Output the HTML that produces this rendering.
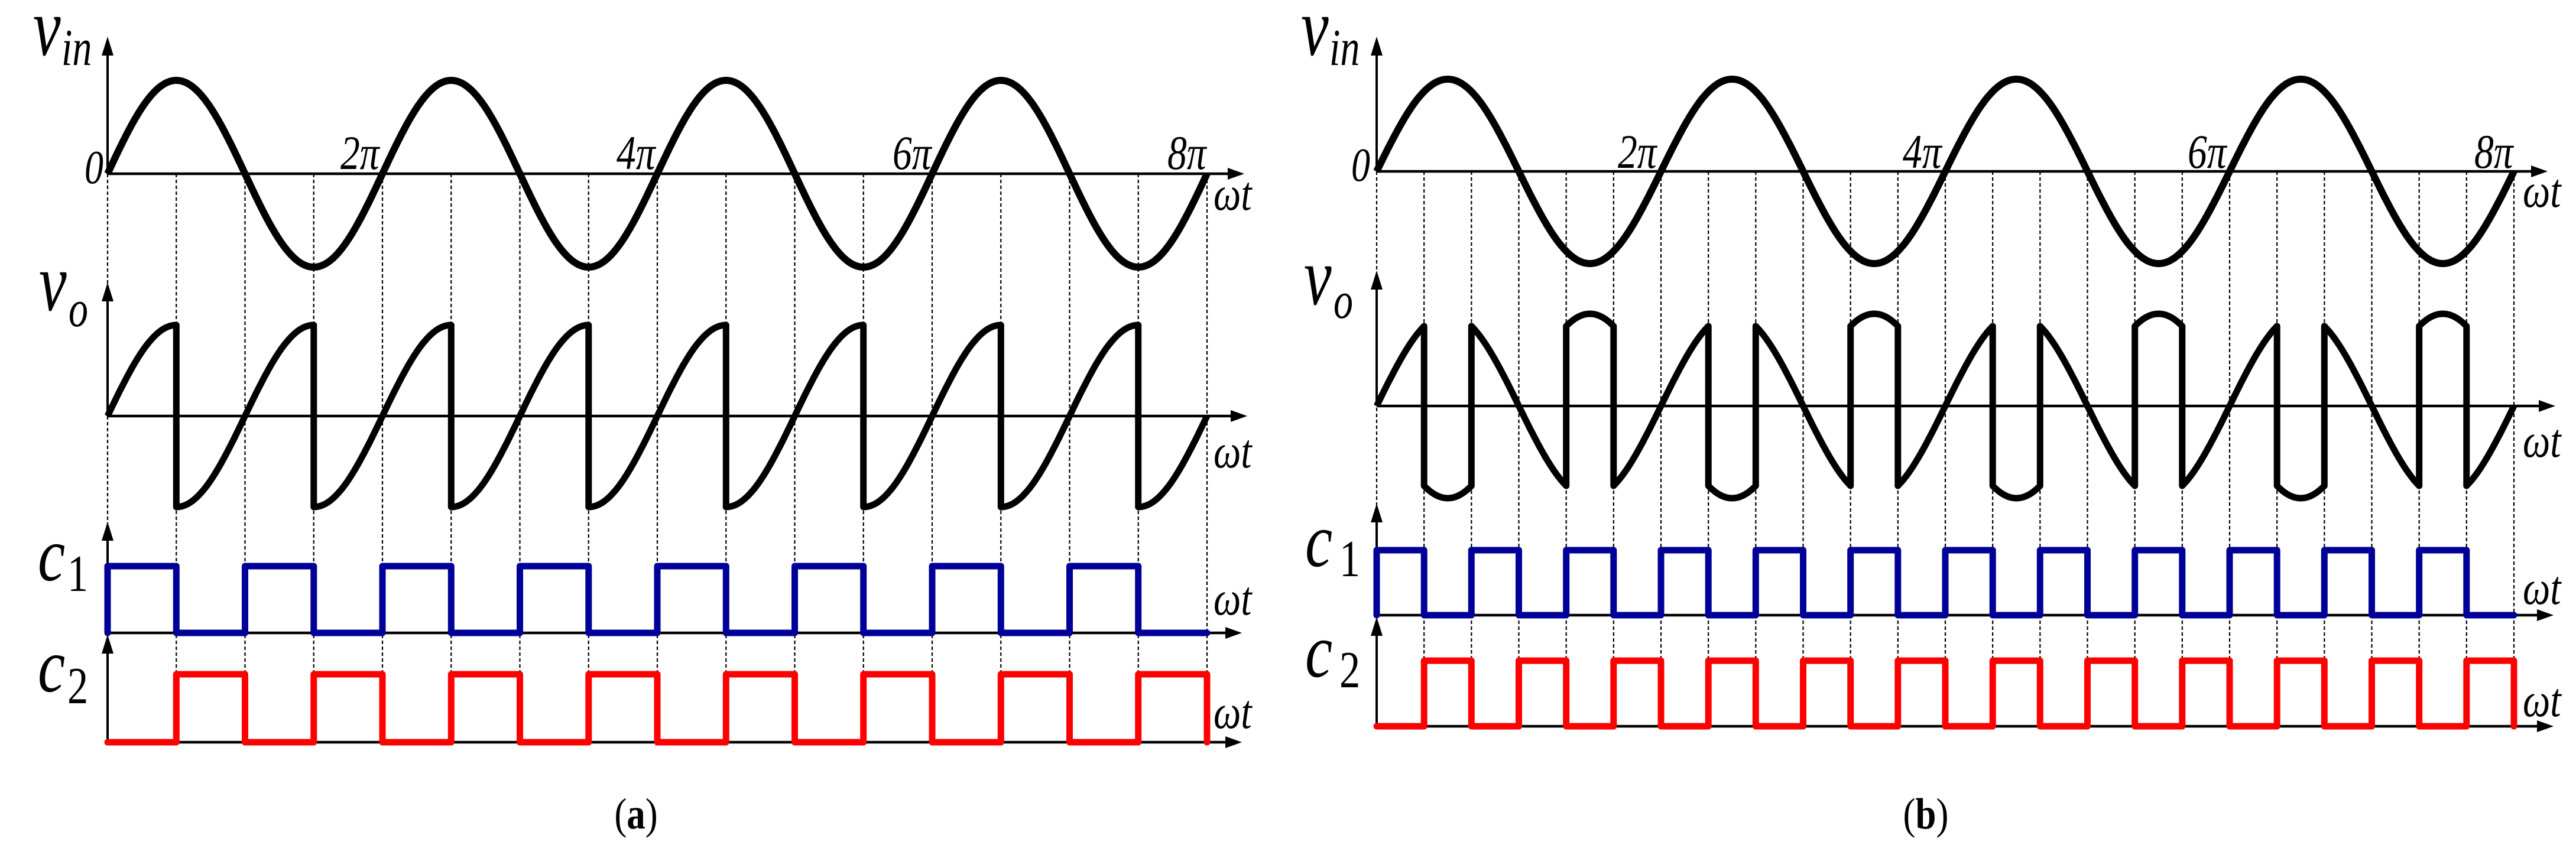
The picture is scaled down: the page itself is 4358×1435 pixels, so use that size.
<!DOCTYPE html>
<html><head><meta charset="utf-8"><style>
html,body{margin:0;padding:0;background:#fff;}
svg{display:block;}
</style></head><body>
<svg id="s" width="4358" height="1435" viewBox="0 0 4358 1435" xmlns="http://www.w3.org/2000/svg">
<g id="g"></g>
<g font-family="'Liberation Serif','Times New Roman','DejaVu Serif',serif" fill="#000">
<!-- Panel a labels -->
<text font-style="italic" font-size="140" transform="translate(56,93) scale(0.75,1)">v</text>
<text font-style="italic" font-size="88" transform="translate(104,110) scale(0.75,1)">in</text>
<text font-style="italic" font-size="80" transform="translate(143,310) scale(0.8,1)">0</text>
<text font-style="italic" font-size="82" transform="translate(576,286) scale(0.8,1)">2π</text>
<text font-style="italic" font-size="82" transform="translate(1043,286) scale(0.8,1)">4π</text>
<text font-style="italic" font-size="82" transform="translate(1510,286) scale(0.8,1)">6π</text>
<text font-style="italic" font-size="82" transform="translate(1975,286) scale(0.8,1)">8π</text>
<text font-style="italic" font-size="82" transform="translate(2053,355) scale(0.8,1)">ωt</text>
<text font-style="italic" font-size="140" transform="translate(66,525) scale(0.75,1)">v</text>
<text font-style="italic" font-size="88" transform="translate(116,552) scale(0.75,1)">o</text>
<text font-style="italic" font-size="82" transform="translate(2053,791) scale(0.8,1)">ωt</text>
<text font-style="italic" font-size="130" transform="translate(64,982) scale(0.8,1)">c</text>
<text font-size="88" transform="translate(114,1000) scale(0.8,1)">1</text>
<text font-style="italic" font-size="82" transform="translate(2053,1040) scale(0.8,1)">ωt</text>
<text font-style="italic" font-size="130" transform="translate(64,1170) scale(0.8,1)">c</text>
<text font-size="88" transform="translate(114,1190) scale(0.8,1)">2</text>
<text font-style="italic" font-size="82" transform="translate(2053,1232) scale(0.8,1)">ωt</text>
<text font-size="74" text-anchor="middle" transform="translate(1076,1402) scale(0.85,1)">(<tspan font-weight="bold">a</tspan>)</text>
<!-- Panel b labels -->
<text font-style="italic" font-size="140" transform="translate(2201,93) scale(0.75,1)">v</text>
<text font-style="italic" font-size="88" transform="translate(2249,110) scale(0.75,1)">in</text>
<text font-style="italic" font-size="80" transform="translate(2286,306) scale(0.8,1)">0</text>
<text font-style="italic" font-size="82" transform="translate(2737,284) scale(0.8,1)">2π</text>
<text font-style="italic" font-size="82" transform="translate(3219,284) scale(0.8,1)">4π</text>
<text font-style="italic" font-size="82" transform="translate(3701,284) scale(0.8,1)">6π</text>
<text font-style="italic" font-size="82" transform="translate(4186,284) scale(0.8,1)">8π</text>
<text font-style="italic" font-size="82" transform="translate(4268,350) scale(0.8,1)">ωt</text>
<text font-style="italic" font-size="140" transform="translate(2206,515) scale(0.75,1)">v</text>
<text font-style="italic" font-size="88" transform="translate(2256,538) scale(0.75,1)">o</text>
<text font-style="italic" font-size="82" transform="translate(4268,773) scale(0.8,1)">ωt</text>
<text font-style="italic" font-size="130" transform="translate(2208,958) scale(0.8,1)">c</text>
<text font-size="88" transform="translate(2266,975) scale(0.8,1)">1</text>
<text font-style="italic" font-size="82" transform="translate(4268,1022) scale(0.8,1)">ωt</text>
<text font-style="italic" font-size="130" transform="translate(2208,1145) scale(0.8,1)">c</text>
<text font-size="88" transform="translate(2266,1163) scale(0.8,1)">2</text>
<text font-style="italic" font-size="82" transform="translate(4268,1212) scale(0.8,1)">ωt</text>
<text font-size="74" text-anchor="middle" transform="translate(3258,1402) scale(0.85,1)">(<tspan font-weight="bold">b</tspan>)</text>
</g>
</svg>
<script>
(function(){
var g=document.getElementById('g');var out='';
var PI=Math.PI;
function line(x1,y1,x2,y2,st){out+='<line x1="'+x1+'" y1="'+y1+'" x2="'+x2+'" y2="'+y2+'" '+st+'/>';}
function arrowR(x,y){out+='<polygon points="'+x+','+y+' '+(x-28)+','+(y-10)+' '+(x-28)+','+(y+10)+'" fill="#000"/>';}
function arrowU(x,y){out+='<polygon points="'+x+','+y+' '+(x-10)+','+(y+32)+' '+(x+10)+','+(y+32)+'" fill="#000"/>';}
function panel(c){
  var x0=c.x0,P=c.P,xs=function(t){return x0+t/(2*PI)*P;};
  var xe=xs(8*PI);
  var n=Math.round(8*PI/c.step);
  for(var k=0;k<=n;k++){var x=xs(k*c.step);line(x,c.yin,x,c.yc2,'stroke="#000" stroke-width="2.2" stroke-dasharray="6,4"');}
  [[c.yin,c.tin,c.ain],[c.yvo,c.tvo,c.avo],[c.yc1,c.tc1,c.ac1],[c.yc2,c.tc2,c.ac2]].forEach(function(a){
    line(x0,a[0],a[2]-20,a[0],'stroke="#000" stroke-width="4.5"');arrowR(a[2],a[0]);
    line(x0,a[0],x0,a[1]+20,'stroke="#000" stroke-width="4"');arrowU(x0,a[1]);
  });
  var d='';for(var i=0;i<=1600;i++){var t=8*PI*i/1600;d+=(i?'L':'M')+xs(t).toFixed(1)+','+(c.yin-c.Ain*Math.sin(t)).toFixed(1);}
  out+='<path d="'+d+'" fill="none" stroke="#000" stroke-width="12" stroke-linejoin="round"/>';
  d='';var segs=Math.round(8*PI/c.step),first=true;
  for(var s=0;s<segs;s++){var t0=s*c.step,t1=t0+c.step,tm=(t0+t1)/2;var sg=c.sign(tm);
    for(var j=0;j<=40;j++){var t=t0+(t1-t0)*j/40;d+=(first?'M':'L')+xs(t).toFixed(1)+','+(c.yvo-c.Avo*sg*Math.sin(t)).toFixed(1);first=false;}}
  out+='<path d="'+d+'" fill="none" stroke="#000" stroke-width="11" stroke-linejoin="round"/>';
  function sq(yAx,yH,hiFn,col){
    var d='M'+x0+','+yAx;
    for(var s=0;s<segs;s++){var hi=hiFn(s);var y=hi?yH:yAx;var xa=xs(s*c.step),xb=xs((s+1)*c.step);
      d+='L'+xa.toFixed(1)+','+y+'L'+xb.toFixed(1)+','+y;}
    d+='L'+xe.toFixed(1)+','+yAx;
    out+='<path d="'+d+'" fill="none" stroke="'+col+'" stroke-width="11" stroke-linejoin="round" stroke-linecap="round"/>';
  }
  sq(c.yc1,c.hc1,function(s){return s%2==0;},'#000099');
  sq(c.yc2,c.hc2,function(s){return s%2==1;},'#ff0000');
}
panel({x0:182,P:465,step:PI/2,yin:294,Ain:158,yvo:704,Avo:154,yc1:1071,hc1:958,yc2:1256,hc2:1141,
  tin:62,tvo:478,tc1:883,tc2:1074,ain:2105,avo:2110,ac1:2101,ac2:2101,
  sign:function(t){return (Math.floor((t+PI/2)/PI)%2==0)?1:-1;}});
panel({x0:2329,P:481,step:PI/3,yin:290,Ain:156,yvo:687,Avo:156,yc1:1041,hc1:931,yc2:1229,hc2:1118,
  tin:62,tvo:458,tc1:852,tc2:1044,ain:4310,avo:4323,ac1:4320,ac2:4320,
  sign:function(t){var m=t%PI;return (m>PI/3&&m<2*PI/3)?-1:1;}});
g.innerHTML=out;
})();
</script>
</body></html>
